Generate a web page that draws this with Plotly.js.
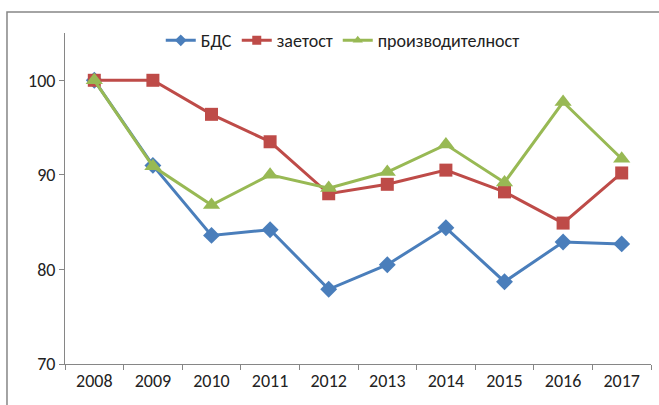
<!DOCTYPE html>
<html><head><meta charset="utf-8">
<script src="https://cdn.plot.ly/plotly-3.0.1.min.js"></script>
<style>body{margin:0;background:#fff}#c{width:659px;height:405px}</style>
</head><body><div id="c"></div>
<script>
const years = ['2008','2009','2010','2011','2012','2013','2014','2015','2016','2017'];
const bds = [100, 91.0, 83.6, 84.2, 77.9, 80.5, 84.4, 78.7, 82.9, 82.7];
const zaetost = [100, 100, 96.4, 93.5, 88.0, 89.0, 90.5, 88.2, 84.9, 90.2];
const proizv = [100, 90.9, 86.8, 90.0, 88.6, 90.3, 93.2, 89.2, 97.7, 91.7];
const names = ['БДС','заетост','производителност'];
const colors = ['#4A7EBB','#BE4B48','#98B954'];
const symbols = ['diamond','square','triangle-up'];

const font = {family:'Carlito, Calibri, "Liberation Sans Narrow", Arial, sans-serif', size:18, color:'#222'};
const series = [bds, zaetost, proizv];
const sizes = [13, 13, 15];
const data = [];
series.forEach((y,i)=>data.push({x:years,y:y,name:names[i],type:'scatter',mode:'lines+markers',showlegend:false,
  line:{color:colors[i],width:3},marker:{symbol:symbols[i],size:sizes[i],color:colors[i]}}));
// legend entries (smaller legend symbols, as in the reference)
series.forEach((y,i)=>data.push({x:[null],y:[null],name:names[i],type:'scatter',mode:'lines+markers',
  line:{color:colors[i],width:3},marker:{symbol:symbols[i],size:9,color:colors[i]}}));

const layout = {
  width:659,height:405,margin:{l:65,r:8,t:33,b:41},
  paper_bgcolor:'#fff',plot_bgcolor:'#fff',font:font,showlegend:true,
  legend:{orientation:'h',x:0.474,xanchor:'center',y:0.977,yanchor:'middle',font:font,traceorder:'normal',itemwidth:30},
  xaxis:{type:'category',showgrid:false,zeroline:false,showline:true,linecolor:'#868686',linewidth:1,
    ticks:'outside',tickson:'boundaries',ticklen:5,tickcolor:'#868686',tickfont:font,range:[-0.5,9.5]},
  yaxis:{range:[70,105],tickvals:[70,80,90,100],showgrid:false,zeroline:false,showline:true,linecolor:'#868686',
    linewidth:1,ticks:'outside',ticklen:5,tickcolor:'#868686',tickfont:font},
  shapes:[{type:'rect',xref:'paper',yref:'paper',x0:-0.099,x1:1.02,y0:-0.15,y1:1.0634,
    line:{color:'#868686',width:1.5},fillcolor:'rgba(0,0,0,0)',layer:'below'}]
};
Plotly.newPlot('c',data,layout,{displayModeBar:false,staticPlot:true});
</script></body></html>
